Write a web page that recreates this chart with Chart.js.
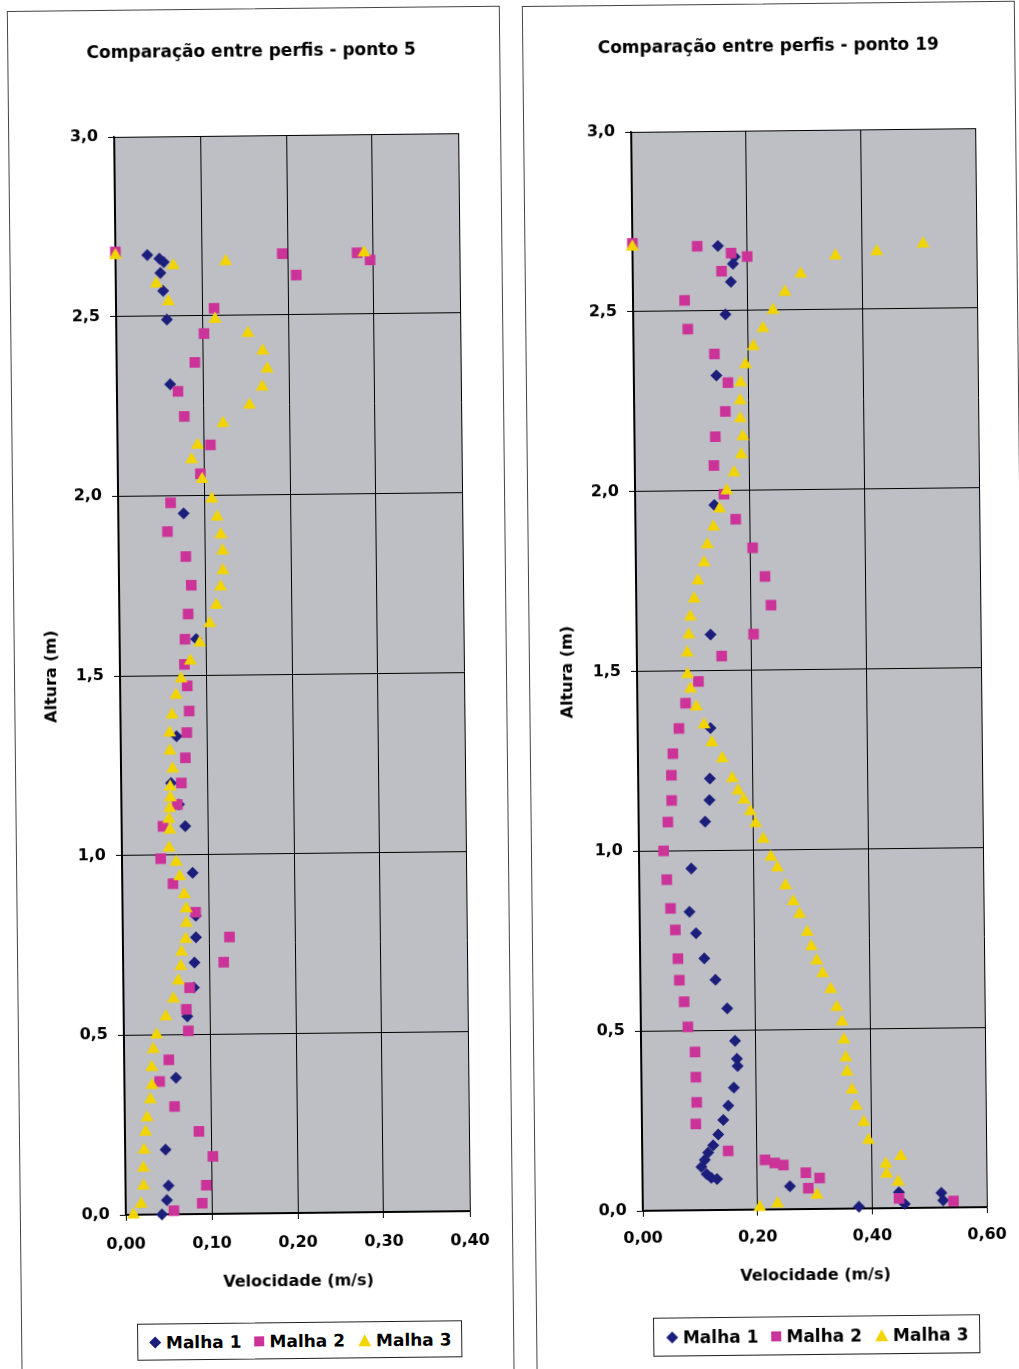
<!DOCTYPE html>
<html>
<head>
<meta charset="utf-8">
<script src="https://cdn.jsdelivr.net/npm/chart.js@4.4.0/dist/chart.umd.min.js"></script>
<style>
body { margin:0; background:#fff; width:1019px; height:1369px; position:relative; overflow:hidden; font-family:"DejaVu Sans", sans-serif; }
.wrap { position:absolute; left:0; top:0; width:1019px; height:1369px; transform:rotate(-0.62deg); }
.frame { position:absolute; border:1.5px solid #444; box-sizing:border-box; }
.wrap canvas { position:absolute; }
.legend { position:absolute; box-sizing:border-box; border:1.5px solid #222; background:#fff; display:flex; align-items:center; justify-content:center; font-weight:bold; font-size:17px; color:#000; }
.legend .item { display:flex; align-items:center; margin:0 6px; white-space:nowrap; }
.legend svg { margin-right:4px; }
</style>
</head>
<body>

<div class="wrap" style="transform-origin:292px 674px;">
  <div class="frame" style="left:14px; top:8px; width:493px; height:1400px;"></div>
  <canvas id="c5" width="493" height="1357" style="left:7px; top:8px;"></canvas>
  <div class="legend" id="leg5" style="left:130px; top:1322px; width:325px; height:37px;"></div>
</div>
<div class="wrap" style="transform-origin:809px 669px;">
  <div class="frame" style="left:529px; top:3px; width:493px; height:1400px;"></div>
  <canvas id="c19" width="493" height="1362" style="left:522px; top:3px;"></canvas>
  <div class="legend" id="leg19" style="left:646px; top:1316px; width:327px; height:39px;"></div>
</div>

<script>
// ---------- dados (velocidade m/s, altura m) ----------
const SERIES = ['Malha 1', 'Malha 2', 'Malha 3'];

// ponto 5
const p5m1V = [0.037,0.051,0.056,0.052,0.055,0.059,0.062,0.076,0.089,0.065,0.058,0.067,0.074,0.082,0.085,0.085,0.083,0.082,0.074,0.060,0.047,0.050,0.048,0.042];
const p5m1H = [2.67,2.66,2.65,2.62,2.57,2.49,2.31,1.95,1.60,1.33,1.20,1.14,1.08,0.95,0.83,0.77,0.70,0.63,0.55,0.38,0.18,0.08,0.04,0.00];

const p5m2V = [0.000,0.194,0.281,0.296,0.210,0.114,0.102,0.091,0.071,0.078,0.108,0.096,0.061,0.057,0.078,0.084,0.080,0.076,0.075,0.078,0.080,0.077,0.075,0.070,0.065,0.048,0.045,0.059,0.085,0.124,0.117,0.077,0.073,0.075,0.052,0.041,0.058,0.086,0.102,0.094,0.089,0.056];
const p5m2H = [2.68,2.67,2.67,2.65,2.61,2.52,2.45,2.37,2.29,2.22,2.14,2.06,1.98,1.90,1.83,1.75,1.67,1.60,1.53,1.47,1.40,1.34,1.27,1.20,1.14,1.08,0.99,0.92,0.84,0.77,0.70,0.63,0.57,0.51,0.43,0.37,0.30,0.23,0.16,0.08,0.03,0.01];

const p5m3V = [0.000,0.289,0.128,0.067,0.047,0.061,0.115,0.153,0.170,0.175,0.169,0.154,0.123,0.093,0.086,0.098,0.109,0.115,0.119,0.121,0.121,0.118,0.113,0.105,0.093,0.082,0.071,0.065,0.060,0.057,0.057,0.060,0.057,0.057,0.056,0.055,0.056,0.055,0.063,0.067,0.072,0.074,0.074,0.073,0.068,0.067,0.064,0.058,0.049,0.038,0.034,0.032,0.032,0.030,0.026,0.024,0.022,0.021,0.021,0.018,0.009];
const p5m3H = [2.67,2.67,2.65,2.64,2.59,2.54,2.49,2.45,2.40,2.35,2.30,2.25,2.20,2.14,2.10,2.045,1.99,1.94,1.89,1.845,1.79,1.745,1.694,1.643,1.59,1.54,1.49,1.445,1.39,1.34,1.29,1.24,1.19,1.16,1.13,1.10,1.07,1.02,0.98,0.94,0.89,0.85,0.81,0.765,0.73,0.69,0.65,0.60,0.55,0.50,0.46,0.41,0.36,0.32,0.27,0.23,0.18,0.13,0.08,0.03,0.00];

// ponto 19
const p19m1V = [0.149,0.178,0.175,0.171,0.161,0.144,0.138,0.129,0.127,0.125,0.124,0.116,0.091,0.087,0.098,0.112,0.131,0.151,0.164,0.167,0.168,0.161,0.151,0.142,0.133,0.124,0.115,0.109,0.103,0.112,0.120,0.130,0.257,0.377,0.447,0.457,0.521,0.524];
const p19m1H = [2.68,2.65,2.63,2.58,2.49,2.32,1.96,1.60,1.34,1.20,1.14,1.08,0.95,0.83,0.77,0.70,0.64,0.56,0.47,0.42,0.40,0.34,0.29,0.25,0.21,0.18,0.16,0.14,0.12,0.10,0.09,0.086,0.064,0.005,0.044,0.011,0.041,0.020];

const p19m2V = [0.000,0.113,0.172,0.200,0.155,0.090,0.095,0.141,0.164,0.159,0.141,0.138,0.155,0.175,0.204,0.225,0.235,0.204,0.148,0.107,0.084,0.072,0.061,0.058,0.058,0.051,0.043,0.048,0.054,0.062,0.066,0.068,0.076,0.082,0.094,0.095,0.096,0.094,0.150,0.214,0.231,0.246,0.285,0.309,0.289,0.447,0.542];
const p19m2H = [2.69,2.68,2.66,2.65,2.61,2.53,2.45,2.38,2.30,2.22,2.15,2.07,1.99,1.92,1.84,1.76,1.68,1.60,1.54,1.47,1.41,1.34,1.27,1.21,1.14,1.08,1.00,0.92,0.84,0.78,0.70,0.64,0.58,0.51,0.44,0.37,0.30,0.24,0.164,0.138,0.129,0.123,0.101,0.086,0.058,0.027,0.018];

const p19m3V = [0.000,0.507,0.426,0.354,0.293,0.265,0.244,0.226,0.209,0.195,0.186,0.185,0.185,0.189,0.186,0.173,0.160,0.147,0.136,0.125,0.119,0.108,0.101,0.094,0.091,0.088,0.088,0.093,0.103,0.116,0.129,0.147,0.164,0.174,0.184,0.195,0.204,0.217,0.230,0.241,0.255,0.268,0.279,0.292,0.299,0.308,0.318,0.332,0.342,0.351,0.354,0.357,0.359,0.367,0.374,0.387,0.395,0.451,0.425,0.426,0.446,0.304,0.204,0.235];
const p19m3H = [2.68,2.68,2.66,2.65,2.60,2.55,2.50,2.45,2.40,2.35,2.30,2.25,2.20,2.15,2.10,2.05,2.00,1.95,1.90,1.85,1.80,1.75,1.70,1.65,1.60,1.55,1.49,1.45,1.40,1.35,1.30,1.255,1.20,1.165,1.14,1.107,1.074,1.03,0.98,0.95,0.90,0.856,0.82,0.77,0.73,0.69,0.655,0.61,0.56,0.52,0.47,0.42,0.38,0.33,0.285,0.24,0.19,0.144,0.123,0.095,0.073,0.039,0.006,0.016];

// ---------- estilo ----------
const COLORS = ['#1c1e7c', '#cc3399', '#f2d400'];
const SHAPES = ['rectRot', 'rect', 'triangle'];
const RADII  = [6, 7.5, 7.5];
const PLOT_BG = '#bdbfc4';

Chart.defaults.font.family = '"DejaVu Sans", sans-serif';
Chart.defaults.font.weight = 'bold';
Chart.defaults.font.size = 16;
Chart.defaults.color = '#000';

// fundo cinza da área do gráfico
const plotBg = {
    id: 'plotBg',
    beforeDraw(chart) {
        const a = chart.chartArea, ctx = chart.ctx;
        ctx.save();
        ctx.fillStyle = PLOT_BG;
        ctx.fillRect(a.left, a.top, a.right - a.left, a.bottom - a.top);
        ctx.restore();
    }
};

// título centrado no quadro (não na área do gráfico)
const panelTitle = {
    id: 'panelTitle',
    afterDraw(chart, args, opts) {
        const ctx = chart.ctx;
        ctx.save();
        ctx.font = 'bold 17px "DejaVu Sans", sans-serif';
        ctx.fillStyle = '#000';
        ctx.textAlign = 'center';
        ctx.textBaseline = 'middle';
        ctx.fillText(opts.text, opts.x, opts.y);
        ctx.restore();
    }
};

function pts(v, h) { return v.map((x, i) => ({ x: x, y: h[i] })); }
function comma(v, d) { return Number(v).toFixed(d).replace('.', ','); }

function makeChart(id, title, xMax, xStep, lists, L) {
    let datasets = lists.map((l, i) => ({
        label: SERIES[i],
        data: pts(l[0], l[1]),
        pointStyle: SHAPES[i],
        pointRadius: RADII[i],
        pointHoverRadius: RADII[i],
        backgroundColor: COLORS[i],
        borderColor: COLORS[i],
        borderWidth: 0,
        clip: false,
        order: 2 - i
    }));
    return new Chart(document.getElementById(id), {
        type: 'scatter',
        data: { datasets },
        plugins: [plotBg, panelTitle],
        options: {
            responsive: false,
            animation: false,
            layout: { padding: { left: 0, top: 127, right: L.padRight, bottom: L.padBottom } },
            plugins: {
                legend: { display: false },
                tooltip: { enabled: false },
                title: { display: false },
                panelTitle: { text: title, x: L.titleX, y: 44 }
            },
            scales: {
                x: {
                    type: 'linear', min: 0, max: xMax,
                    ticks: { stepSize: xStep, padding: L.xTickPad, callback: v => comma(v, 2), maxRotation: 0 },
                    grid: { color: '#000', lineWidth: 1, tickLength: 6, tickColor: '#000' },
                    border: { display: true, color: '#000', width: 1.5 },
                    title: { display: true, text: 'Velocidade (m/s)', font: { size: 16, weight: 'bold' }, padding: { top: 0, bottom: 0 } },
                    afterFit: s => { s.height = L.xHeight; }
                },
                y: {
                    type: 'linear', min: 0, max: 3,
                    ticks: { stepSize: 0.5, padding: 10, callback: v => comma(v, 1) },
                    grid: { color: '#000', lineWidth: 1, tickLength: 6, tickColor: '#000' },
                    border: { display: true, color: '#000', width: 1.5 },
                    title: { display: true, text: 'Altura (m)', font: { size: 16, weight: 'bold' }, padding: { top: L.yTitlePad, bottom: 0 } },
                    afterFit: s => { s.width = L.yWidth; }
                }
            }
        }
    });
}

function legendHtml(el) {
    const marks = [
        '<svg width="14" height="14" viewBox="0 0 14 14"><polygon points="7,1 13,7 7,13 1,7" fill="' + COLORS[0] + '"/></svg>',
        '<svg width="12" height="12" viewBox="0 0 12 12"><rect x="1" y="1" width="10" height="10" fill="' + COLORS[1] + '"/></svg>',
        '<svg width="15" height="14" viewBox="0 0 15 14"><polygon points="7.5,1 14,13 1,13" fill="' + COLORS[2] + '"/></svg>'
    ];
    el.innerHTML = SERIES.map((s, i) => '<span class="item">' + marks[i] + s + '</span>').join('');
}

makeChart('c5', 'Comparação entre perfis - ponto 5', 0.4, 0.1,
    [[p5m1V, p5m1H], [p5m2V, p5m2H], [p5m3V, p5m3H]],
    { titleX: 251, padRight: 36, padBottom: 74, xTickPad: 14, xHeight: 78, yTitlePad: 35, yWidth: 113 });

makeChart('c19', 'Comparação entre perfis - ponto 19', 0.6, 0.2,
    [[p19m1V, p19m1H], [p19m2V, p19m2H], [p19m3V, p19m3H]],
    { titleX: 253, padRight: 34, padBottom: 80, xTickPad: 12, xHeight: 76, yTitlePad: 36, yWidth: 115 });

legendHtml(document.getElementById('leg5'));
legendHtml(document.getElementById('leg19'));
</script>
</body>
</html>
